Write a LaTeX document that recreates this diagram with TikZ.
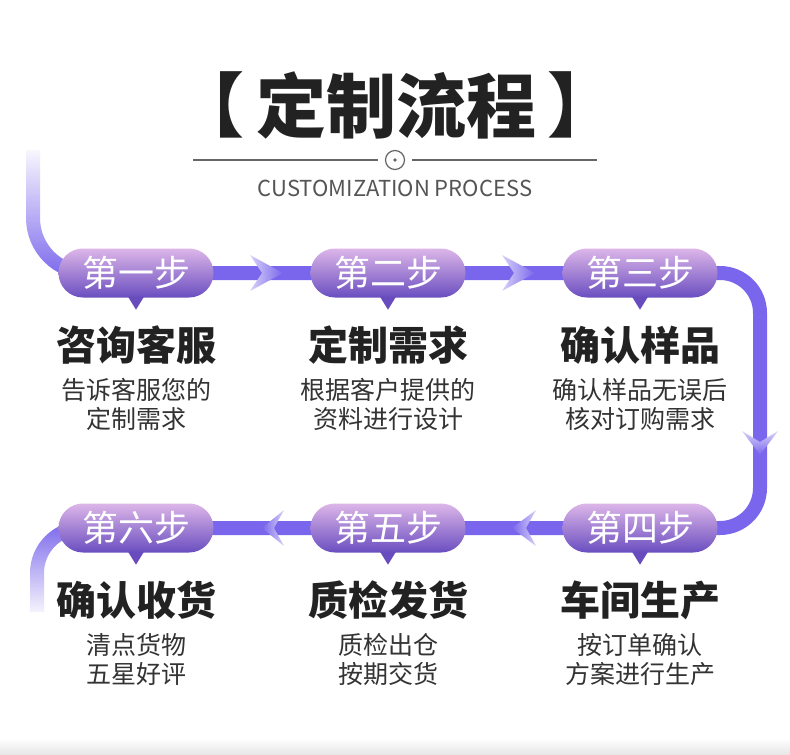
\documentclass[tikz,border=0pt]{standalone}
\usepackage{fontspec}
\setmainfont{Noto Sans CJK SC}
\usetikzlibrary{fadings}
\definecolor{linec}{RGB}{122,102,236}
\definecolor{pilltop}{RGB}{220,182,232}
\definecolor{pillbot}{RGB}{106,78,192}
\definecolor{ptrc}{RGB}{104,76,190}
\definecolor{titlec}{RGB}{34,34,34}
\definecolor{subc}{RGB}{85,85,85}
\definecolor{descc}{RGB}{51,51,51}
\tikzfading[name=fadetop, top color=transparent!100, bottom color=transparent!0]
\tikzfading[name=fadebottom, top color=transparent!0, bottom color=transparent!100]
\tikzset{
  flow/.style={line width=14pt, linec},
  pill/.style={minimum width=155pt, minimum height=49pt, rounded corners=24.5pt,
    top color=pilltop, bottom color=pillbot, text=white, inner sep=0pt,
    font=\fontsize{36}{36}\selectfont},
  head/.style={text=titlec, inner sep=0pt, font=\fontsize{40}{40}\selectfont\bfseries},
  desc/.style={text=descc, inner sep=0pt, font=\fontsize{25}{25}\selectfont},
  sepline/.style={line width=1.2pt, black!60},
  titlefont/.style={text=titlec, inner sep=0pt, font=\fontsize{70}{70}\selectfont\bfseries},
}
\newcommand{\ptrbelow}[1]{\fill[ptrc] ([xshift=-8pt,yshift=1pt]#1.south) -- ([xshift=8pt,yshift=1pt]#1.south) -- ([yshift=-12pt]#1.south) -- cycle;}
\begin{document}
\begin{tikzpicture}[x=1pt,y=-1pt]
\useasboundingbox (0,0) rectangle (790,755);
\fill[white] (0,0) rectangle (790,755);
\shade[top color=white, bottom color=black!10] (0,738) rectangle (790,755);

% title
\node[titlefont] (title) at (396,105) {定制流程};
\node[titlefont, anchor=east] (lb) at ([xshift=-11pt]title.west) {【};
\node[titlefont, anchor=west] (rb) at ([xshift=11pt]title.east) {】};
\coordinate (l1) at (193,160);
\coordinate (l2) at (378,160);
\coordinate (l3) at (412,160);
\coordinate (l4) at (597,160);
\node[circle, draw=black!60, line width=1.2pt, minimum size=19pt, inner sep=0pt] (circ) at (395,160) {};
\fill[black!60] (circ.center) circle[radius=1.8pt];
\draw[sepline] (l1) -- (l2);
\draw[sepline] (l3) -- (l4);
\node[text=subc, inner sep=0pt, font=\fontsize{22}{22}\selectfont] (sub) at (395,188) {CUSTOMIZATION PROCESS};

% flow path
\coordinate (a0) at (33,150);
\coordinate (a1) at (33,273);
\coordinate (a2) at (120,273);
\coordinate (b0) at (100,273);
\coordinate (b1) at (760,273);
\coordinate (b2) at (760,528);
\coordinate (b3) at (90,528);
\coordinate (c0) at (95,528);
\coordinate (c1) at (37,528);
\coordinate (c2) at (37,612);
\draw[flow, rounded corners=55pt, path fading=fadetop] (a0) -- (a1) -- (a2);
\draw[flow, rounded corners=40pt] (b0) -- (b1) -- (b2) -- (b3);
\draw[flow, rounded corners=45pt, path fading=fadebottom] (c0) -- (c1) -- (c2);

% arrows
\shade[left color=linec!30, right color=linec] (250,255) -- (283,273) -- (250,291) -- (262,273) -- cycle;
\shade[left color=linec!30, right color=linec] (502,255) -- (535,273) -- (502,291) -- (514,273) -- cycle;
\shade[top color=linec!30, bottom color=linec] (742,431) -- (760,455) -- (778,431) -- (760,442) -- cycle;
\shade[left color=linec, right color=linec!30] (284,510) -- (262,528) -- (284,546) -- (274,528) -- cycle;
\shade[left color=linec, right color=linec!30] (536,510) -- (512,528) -- (536,546) -- (526,528) -- cycle;

% pills
\node[pill] (p1) at (136,273) {第一步};
\node[pill] (p2) at (388,273) {第二步};
\node[pill] (p3) at (640,273) {第三步};
\node[pill] (p4) at (640,528) {第四步};
\node[pill] (p5) at (388,528) {第五步};
\node[pill] (p6) at (136,528) {第六步};
\ptrbelow{p1}\ptrbelow{p2}\ptrbelow{p3}\ptrbelow{p4}\ptrbelow{p5}\ptrbelow{p6}

% texts row 1
\node[head] (h1) at (136,345) {咨询客服};
\node[desc] (d1a) at (136,390) {告诉客服您的};
\node[desc] (d1b) at (136,419) {定制需求};
\node[head] (h2) at (388,345) {定制需求};
\node[desc] (d2a) at (388,390) {根据客户提供的};
\node[desc] (d2b) at (388,419) {资料进行设计};
\node[head] (h3) at (640,345) {确认样品};
\node[desc] (d3a) at (640,390) {确认样品无误后};
\node[desc] (d3b) at (640,419) {核对订购需求};
% texts row 2
\node[head] (h6) at (136,600) {确认收货};
\node[desc] (d6a) at (136,645) {清点货物};
\node[desc] (d6b) at (136,674) {五星好评};
\node[head] (h5) at (388,600) {质检发货};
\node[desc] (d5a) at (388,645) {质检出仓};
\node[desc] (d5b) at (388,674) {按期交货};
\node[head] (h4) at (640,600) {车间生产};
\node[desc] (d4a) at (640,645) {按订单确认};
\node[desc] (d4b) at (640,674) {方案进行生产};
\end{tikzpicture}
\end{document}
